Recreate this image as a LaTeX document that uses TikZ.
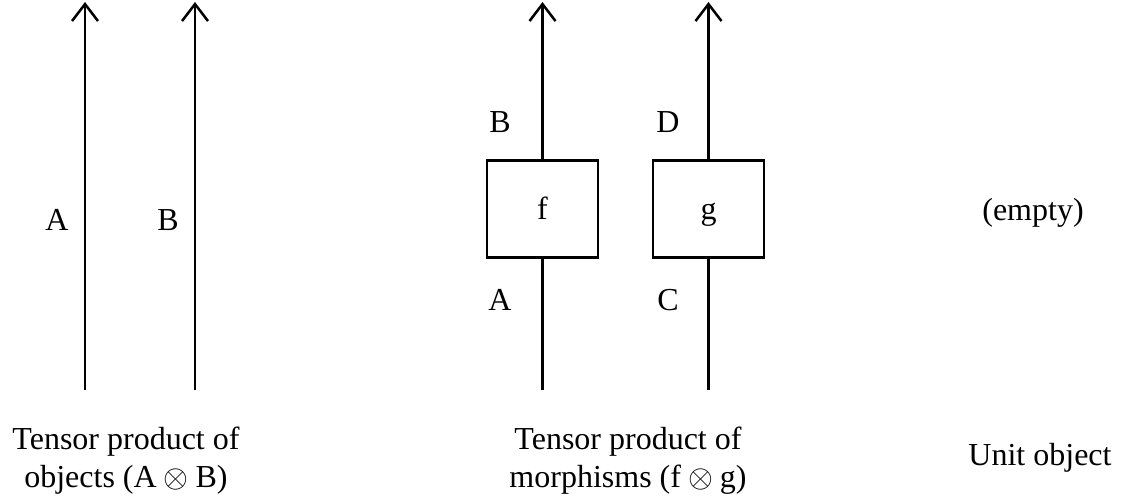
\RequirePackage{fix-cm}
\documentclass[tikz,border=0pt]{standalone}
\usepackage{fontspec}
\setmainfont{Liberation Serif}
\newcommand{\tensorop}{\hspace{7pt}$\otimes$\hspace{7pt}}
\usetikzlibrary{arrows.meta}
\begin{document}
\begin{tikzpicture}[x=1pt,y=-1pt,
  wire/.style={line width=2.5pt},
  upwire/.style={wire,-{Straight Barb[length=17pt,width=26pt]}},
  lbl/.style={inner sep=0pt,font=\fontsize{32}{38}\selectfont},
  morph/.style={lbl,draw,line width=2.5pt,minimum width=111pt,minimum height=97pt,
    text height=24pt,text depth=4pt},
  captiontext/.style={lbl,align=center}]
\useasboundingbox (0,0) rectangle (1121,503);

% tensor product of objects
\coordinate (a0) at (85,390);
\coordinate (a1) at (85,2);
\coordinate (b0) at (195,390);
\coordinate (b1) at (195,2);
\draw[upwire] (a0) -- (a1);
\draw[upwire] (b0) -- (b1);
\node[lbl] (la) at (57,220) {A};
\node[lbl] (lb) at (168,220) {B};
\node[captiontext] (capobj) at (126,461) {Tensor product of\\objects (A\tensorop B)};

% tensor product of morphisms
\node[morph] (f) at (542.5,209) {f};
\node[morph] (g) at (708.5,209) {g};
\coordinate (fin) at (542.5,390);
\coordinate (fout) at (542.5,2);
\coordinate (gin) at (708.5,390);
\coordinate (gout) at (708.5,2);
\draw[wire] (fin) -- (f.south);
\draw[upwire] (f.north) -- (fout);
\draw[wire] (gin) -- (g.south);
\draw[upwire] (g.north) -- (gout);
\node[lbl] (lfa) at (500,300) {A};
\node[lbl] (lfb) at (500,122) {B};
\node[lbl] (lgc) at (668,300) {C};
\node[lbl] (lgd) at (668,122) {D};
\node[captiontext] (capmor) at (628,461) {Tensor product of\\morphisms (f\tensorop g)};

% unit object
\node[lbl] (empty) at (1033,213) {(empty)};
\node[captiontext] (capunit) at (1040,458) {Unit object};
\end{tikzpicture}
\end{document}
